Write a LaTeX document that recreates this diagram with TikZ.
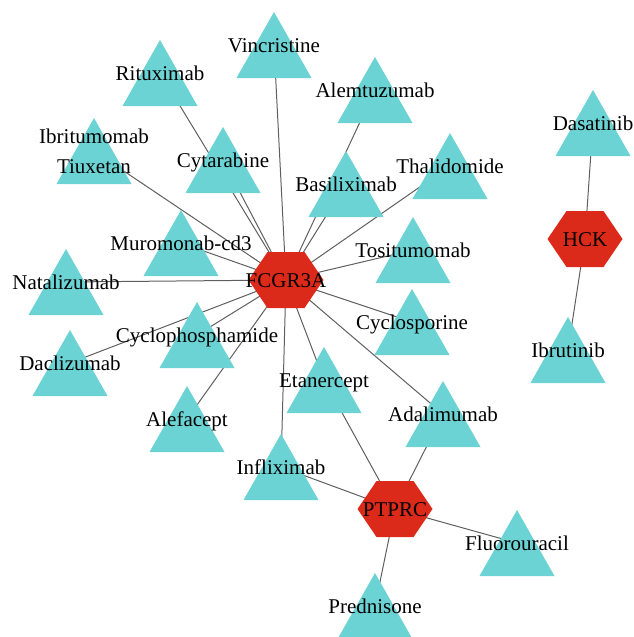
\documentclass[tikz,border=0pt]{standalone}
\usepackage{fontspec}
\setmainfont{Liberation Serif}
\usetikzlibrary{backgrounds}
\definecolor{tricol}{HTML}{6CD3D4}
\definecolor{hexcol}{HTML}{DC2A1A}
\definecolor{edgecol}{HTML}{5F5F5F}
\newcommand\drugnode[4]{%
  \coordinate (#1) at (#2,#3);
  \pic at (#1) {tri};
  \node[lbl] (#1-l) at ([yshift=-7pt]#1) {#4};}
\newcommand\genenode[4]{%
  \coordinate (#1) at (#2,#3);
  \pic at (#1) {hex};
  \node[lbl] (#1-l) at ([yshift=-7pt]#1) {#4};}
\begin{document}
\begin{tikzpicture}[x=1pt,y=-1pt,
  edge/.style={draw=edgecol,line width=1pt},
  tri/.pic={\fill[tricol] (0,-33) -- (37.5,33) -- (-37.5,33) -- cycle;},
  hex/.pic={\fill[hexcol] (-37.5,0) -- (-18.5,-28) -- (18.5,-28) -- (37.5,0) -- (18.5,28) -- (-18.5,28) -- cycle;},
  lbl/.style={anchor=base,inner sep=0pt,font=\fontsize{21}{30}\selectfont,text=black}]
\useasboundingbox (0,0) rectangle (634,637);
% genes
\genenode{fc}{286}{280}{FCGR3A}
\genenode{pt}{395}{509}{PTPRC}
\genenode{hck}{585}{239}{HCK}
% drugs
\drugnode{ritux}{160}{73}{Rituximab}
\drugnode{vinc}{274}{45}{Vincristine}
\drugnode{alem}{375}{90}{Alemtuzumab}
\coordinate (ibri) at (94,151);
\pic at (ibri) {tri};
\node[lbl,anchor=center,align=center] (ibri-l) at (ibri) {Ibritumomab\\Tiuxetan};
\drugnode{cyta}{223}{160}{Cytarabine}
\drugnode{basi}{346}{184}{Basiliximab}
\drugnode{thal}{450}{166}{Thalidomide}
\drugnode{dasa}{593}{123}{Dasatinib}
\drugnode{muro}{181}{243}{Muromonab-cd3}
\drugnode{tosi}{413}{250}{Tositumomab}
\drugnode{nata}{66}{282}{Natalizumab}
\drugnode{cycs}{412}{322}{Cyclosporine}
\drugnode{cyph}{197}{335}{Cyclophosphamide}
\drugnode{dacl}{70}{363}{Daclizumab}
\drugnode{ibru}{568}{350}{Ibrutinib}
\drugnode{etan}{324}{380}{Etanercept}
\drugnode{adal}{443}{414}{Adalimumab}
\drugnode{alef}{187}{419}{Alefacept}
\drugnode{infl}{281}{467}{Infliximab}
\drugnode{fluo}{517}{543}{Fluorouracil}
\drugnode{pred}{375}{606}{Prednisone}
\begin{pgfonlayer}{background}
\foreach \d in {ritux,vinc,alem,ibri,cyta,basi,thal,muro,nata,tosi,cycs,cyph,dacl,alef,etan,adal,infl}
  \draw[edge] (fc) -- (\d);
\foreach \d in {etan,adal,infl,fluo,pred}
  \draw[edge] (pt) -- (\d);
\foreach \d in {dasa,ibru}
  \draw[edge] (hck) -- (\d);
\end{pgfonlayer}
\end{tikzpicture}
\end{document}
